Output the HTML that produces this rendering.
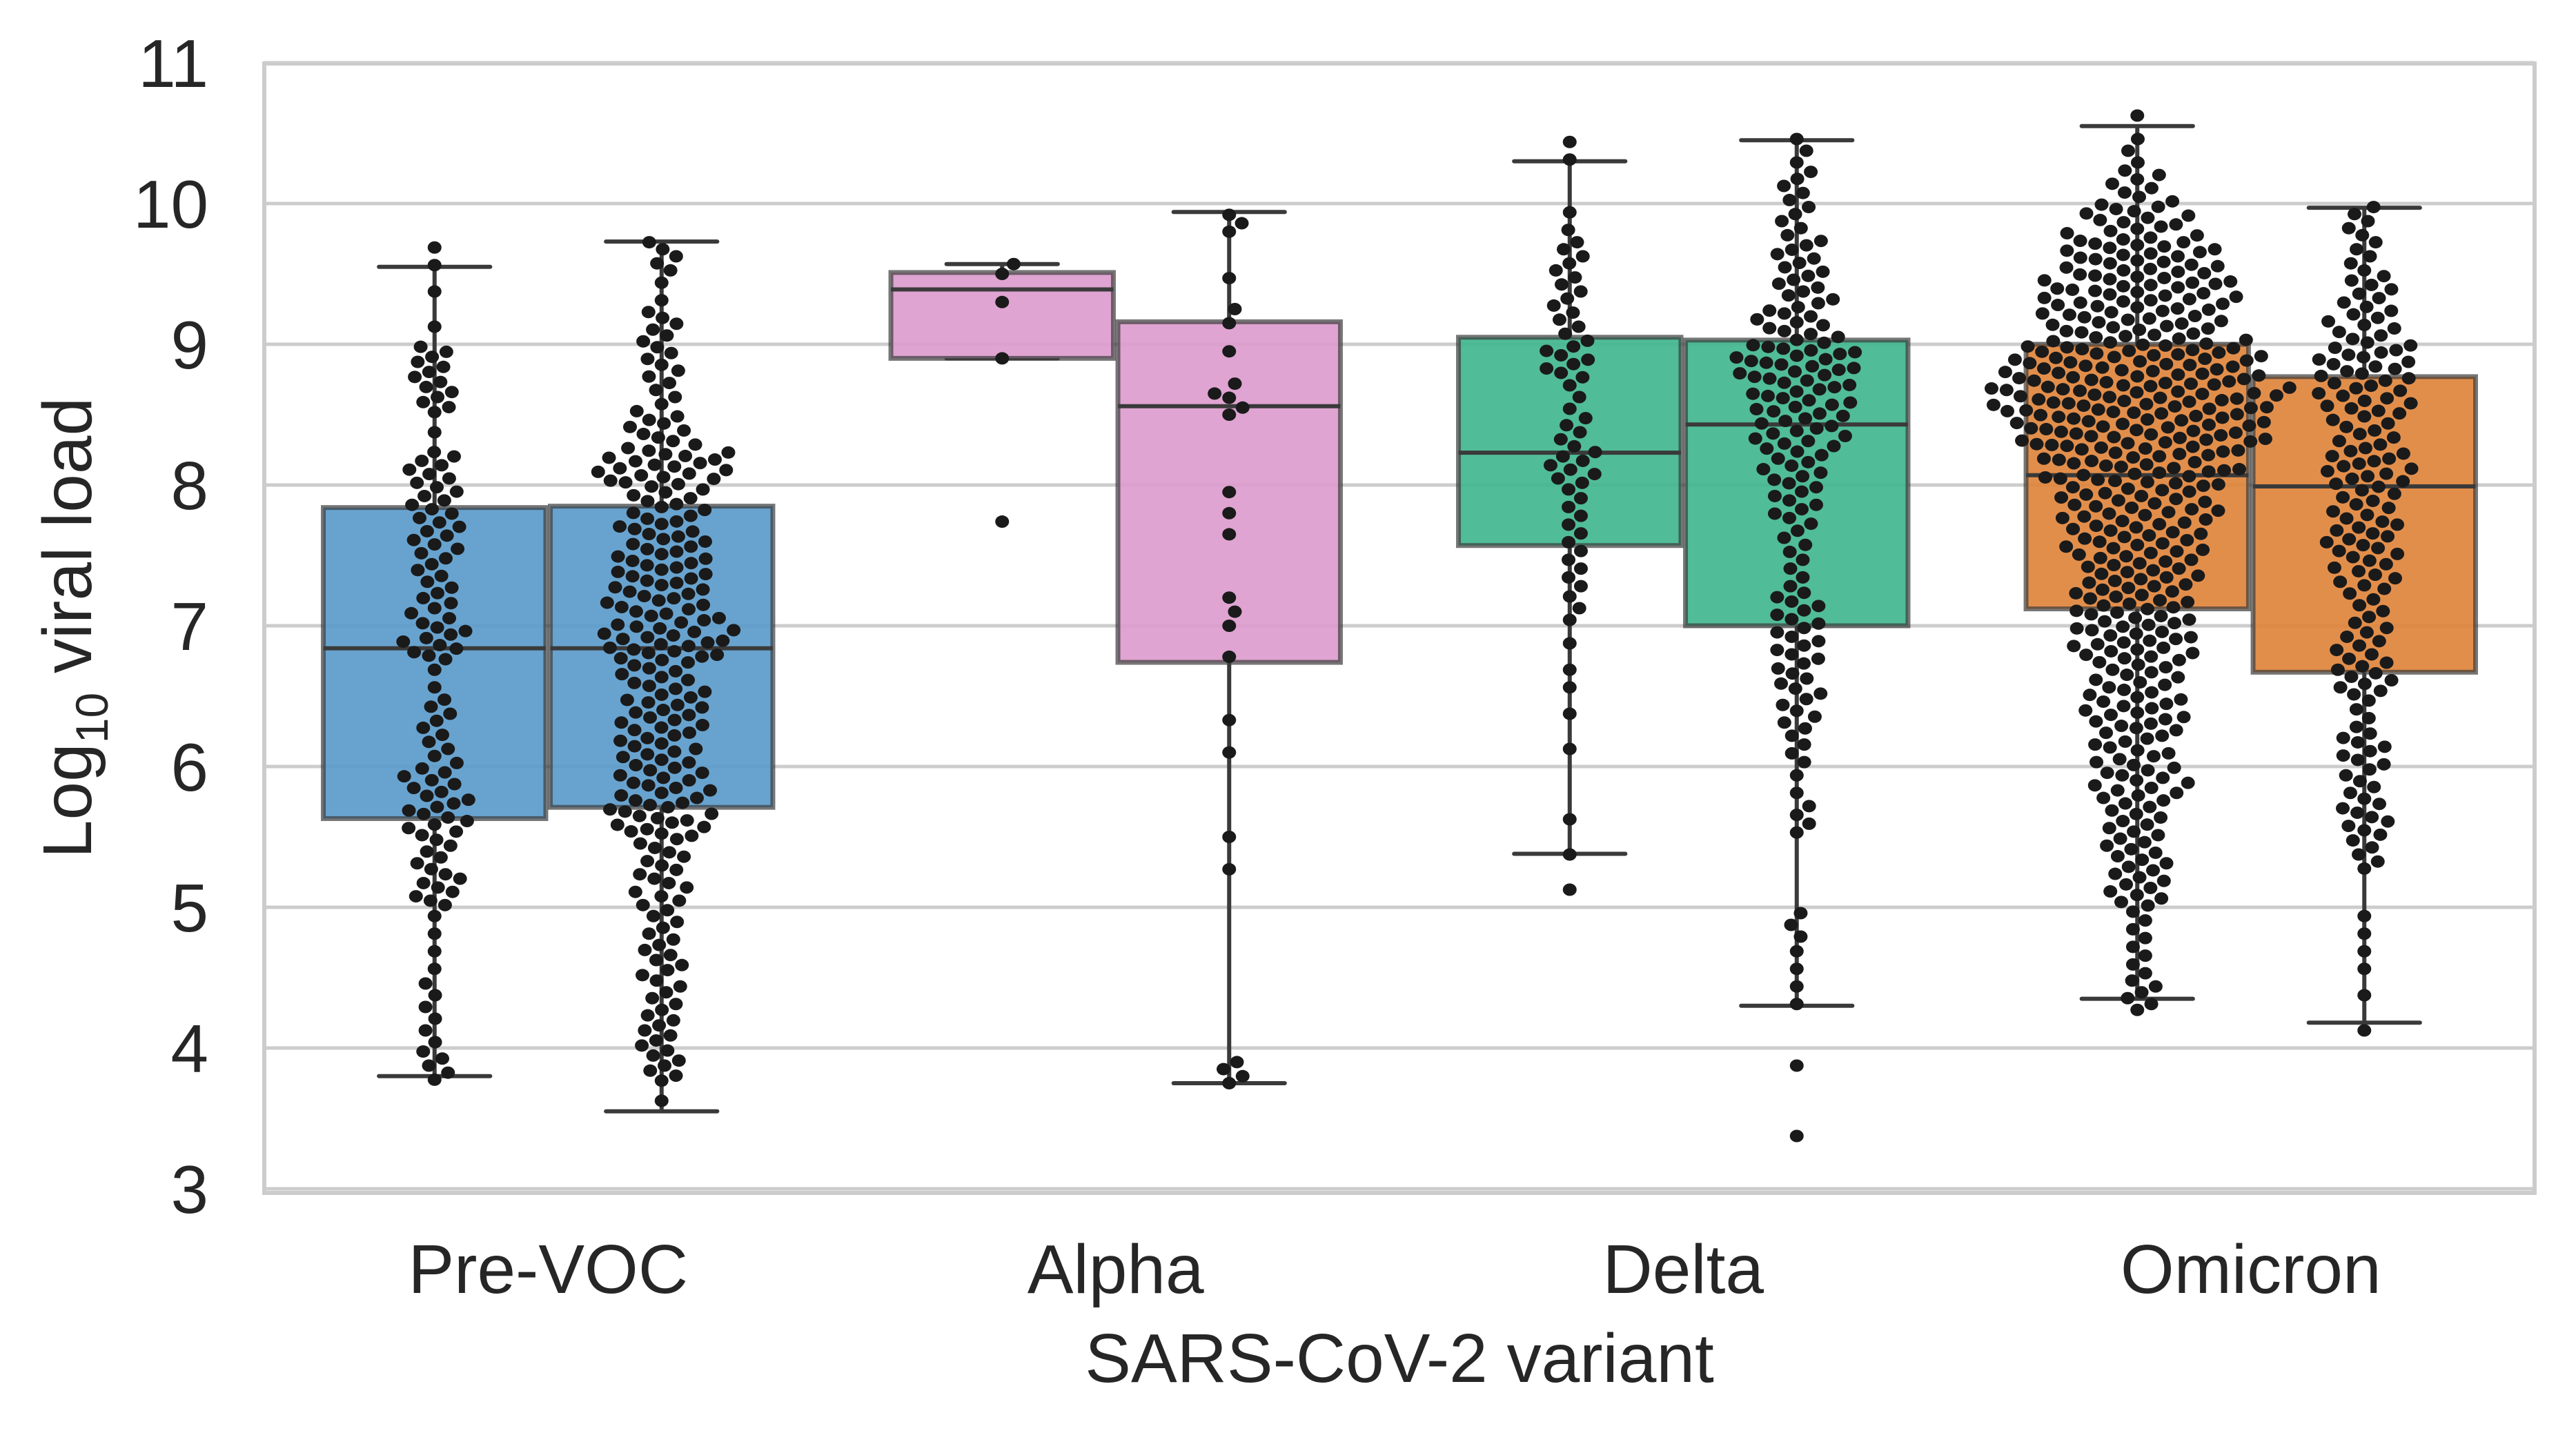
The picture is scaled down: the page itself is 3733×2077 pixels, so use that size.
<!DOCTYPE html>
<html><head><meta charset="utf-8"><style>
html,body{margin:0;padding:0;background:#fff}
svg{display:block}
text{font-family:"Liberation Sans",Arial,sans-serif;fill:#262626}
</style></head><body>
<svg id="chart" width="3733" height="2077" viewBox="0 0 3733 2077" xmlns="http://www.w3.org/2000/svg">
<g id="grid"></g>
<g id="boxes"></g>
<g id="dots"></g>
<g id="axes"></g>
</svg>
<script>
const categories = ["Pre-VOC","Alpha","Delta","Omicron"];
const yTicks = [3,4,5,6,7,8,9,10,11];
const hueColors = [["#5b9bcb","#5b9bcb"],["#dc9ccd","#dc9ccd"],["#41b68f","#41b68f"],["#e0843c","#e0843c"]];
// box stats [whiskerLow, Q1, median, Q3, whiskerHigh] per category per hue
const boxStats = [
 [[3.80,5.63,6.84,7.84,9.55],[3.55,5.71,6.84,7.85,9.73]],
 [[8.90,8.90,9.39,9.51,9.57],[3.75,6.74,8.56,9.16,9.94]],
 [[5.38,7.57,8.23,9.05,10.30],[4.30,7.00,8.43,9.03,10.45]],
 [[4.35,7.12,8.07,9.00,10.55],[4.18,6.67,7.99,8.77,9.97]]
];
// swarm histograms: start value, counts per 0.25 bin
const binWidth = 0.25;
const preVocA = {start:3.75, counts:[5,3,3,2,2,8,6,10,9,5,5,2,10,7,6,8,8,8,1,7,7,1,1,2]};
const preVocB = {start:3.5, counts:[1,7,7,6,7,6,8,8,16,14,13,14,12,20,16,16,14,12,20,10,5,6,6,2,5]};
const alphaA = [9.57,9.50,9.30,8.90,7.74];
const alphaB = [9.92,9.86,9.80,9.47,9.25,9.15,8.95,8.72,8.65,8.62,8.55,8.50,7.95,7.80,7.65,7.20,7.10,7.00,6.78,6.33,6.10,5.50,5.27,3.90,3.85,3.80,3.75];
const deltaA = {start:5.0, counts:[1,1,1,0,1,1,2,1,3,4,4,4,8,5,3,8,5,5,5,2,0,2]};
const deltaB = {start:3.25, counts:[1,0,1,0,2,2,3,0,0,4,2,4,6,7,8,8,4,5,8,10,14,16,20,12,9,8,5,5,3]};
const omicronA = {start:4.25, counts:[6,4,4,10,10,10,14,12,16,14,20,20,20,22,24,30,40,45,40,28,30,25,16,8,3,1]};
const omicronB = {start:4.0, counts:[1,1,2,2,0,5,8,6,8,4,10,8,6,10,12,10,14,10,14,15,10,8,5,5]};
const swarmData = [[preVocA,preVocB],[alphaA,alphaB],[deltaA,deltaB],[omicronA,omicronB]];

const NS="http://www.w3.org/2000/svg";
const L=383,R=3673,T=92,B=1729;
const catW=(R-L)/categories.length;
function yS(v){return 1723-(v-3)*204;}
function xCat(i){return L+catW*(i+0.5);}
function xHue(i,h){return xCat(i)+(h===0?-1:1)*catW*0.2;}
function mk(tag,attrs,parent){const e=document.createElementNS(NS,tag);for(const k in attrs)e.setAttribute(k,attrs[k]);parent.appendChild(e);return e;}
function expand(d){
  if(Array.isArray(d))return d.slice();
  const out=[];
  d.counts.forEach((n,b)=>{const lo=d.start+b*binWidth;for(let k=0;k<n;k++)out.push(lo+(k+0.5)/n*binWidth);});
  return out;
}
const gGrid=document.getElementById('grid'),gBox=document.getElementById('boxes'),gDots=document.getElementById('dots'),gAx=document.getElementById('axes');
yTicks.forEach(t=>{
  const ln=mk('line',{x1:L,x2:R,y1:yS(t),y2:yS(t),stroke:'#cccccc','stroke-width':5},gGrid);
  
  
  const tx=mk('text',{x:302,y:yS(t)+35,'text-anchor':'end','font-size':98},gAx);
  tx.textContent=t;
  
  
});
const bw=catW*0.4*0.98;
boxStats.forEach((cat,i)=>cat.forEach((s,h)=>{
  const cx=xHue(i,h);
  const g=mk('g',{},gBox);
  
  
  const wc='#3a3a3a';
  mk('line',{x1:cx,x2:cx,y1:yS(s[0]),y2:yS(s[1]),stroke:wc,'stroke-width':6},g);
  mk('line',{x1:cx,x2:cx,y1:yS(s[3]),y2:yS(s[4]),stroke:wc,'stroke-width':6},g);
  mk('line',{x1:cx-bw/4,x2:cx+bw/4,y1:yS(s[0]),y2:yS(s[0]),stroke:wc,'stroke-width':6,'stroke-linecap':'round'},g);
  mk('line',{x1:cx-bw/4,x2:cx+bw/4,y1:yS(s[4]),y2:yS(s[4]),stroke:wc,'stroke-width':6,'stroke-linecap':'round'},g);
  mk('rect',{x:cx-bw/2,y:yS(s[3]),width:bw,height:Math.max(1,yS(s[1])-yS(s[3])),fill:hueColors[i][h],'fill-opacity':0.92,stroke:'#3c3c3c','stroke-opacity':0.7,'stroke-width':7},g);
  mk('line',{x1:cx-bw/2,x2:cx+bw/2,y1:yS(s[2]),y2:yS(s[2]),stroke:'#3a3a3a','stroke-width':6},g);
}));
const D=22;
swarmData.forEach((cat,i)=>cat.forEach((d,h)=>{
  const vals=expand(d).sort((a,b)=>a-b);
  const placed=[];
  const cx=xHue(i,h);
  vals.forEach(v=>{
    const y=yS(v);
    const near=placed.filter(p=>Math.abs(p.y-y)<D);
    const cands=[0];
    near.forEach(p=>{const dx=Math.sqrt(D*D-(p.y-y)**2);cands.push(p.x+dx,p.x-dx);});
    cands.sort((a,b)=>Math.abs(a)-Math.abs(b));
    let x=0;
    for(const c of cands){if(near.every(p=>(p.x-c)**2+(p.y-y)**2>=D*D-0.01)){x=c;break;}}
    placed.push({x,y});
    const c=mk('ellipse',{cx:cx+x,cy:y,rx:10,ry:9,fill:'#1a1a1a'},gDots);
    
    
  });
}));
const sp=mk('rect',{x:L,y:T,width:R-L,height:B-T,fill:'none',stroke:'#cccccc','stroke-width':6},gAx);


categories.forEach((c,i)=>{
  const tx=mk('text',{x:xCat(i),y:1874,'text-anchor':'middle','font-size':100},gAx);
  tx.textContent=c;
  
  
});
const xt=mk('text',{x:(L+R)/2,y:2003,'text-anchor':'middle','font-size':100},gAx);
xt.textContent='SARS-CoV-2 variant';


const yt=mk('text',{x:0,y:0,'text-anchor':'middle','font-size':100,transform:'translate(132,910) rotate(-90)'},gAx);
yt.innerHTML='Log<tspan font-size="66" dy="24">10</tspan><tspan dy="-24"> viral load</tspan>';


</script>
</body></html>
